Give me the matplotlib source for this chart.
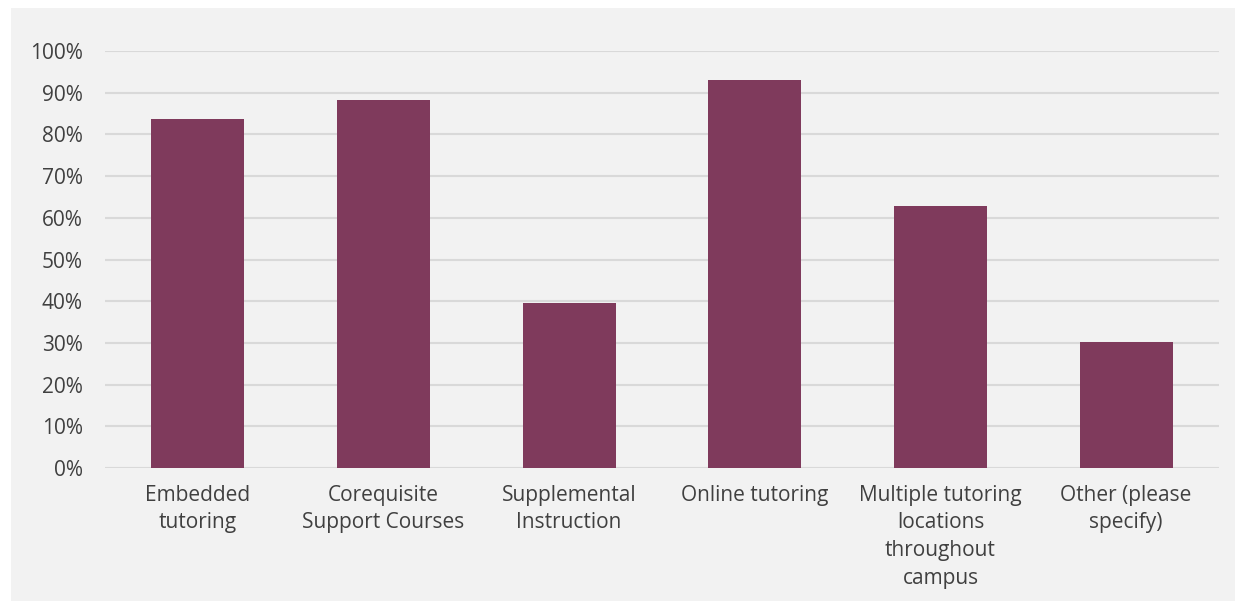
import matplotlib
matplotlib.use("Agg")
import matplotlib.pyplot as plt
from matplotlib.patches import Rectangle
from matplotlib.ticker import FuncFormatter, MultipleLocator

categories = ["Embedded\ntutoring", "Corequisite\nSupport Courses", "Supplemental\nInstruction",
              "Online tutoring", "Multiple tutoring\nlocations\nthroughout\ncampus", "Other (please\nspecify)"]
values = [83.7, 88.3, 39.6, 93.0, 62.8, 30.1]

bar_color = "#7f3a5c"
bg_color = "#f2f2f2"
text_color = "#404040"
grid_color = "#d9d9d9"

plt.rcParams['font.family'] = ['Open Sans', 'DejaVu Sans']

W, H = 1235, 601
fig = plt.figure(figsize=(W / 100, H / 100), dpi=100)
fig.patch.set_facecolor("white")
fig.patches.append(Rectangle((11 / W, 0), 1 - 11 / W, 1 - 8 / H, transform=fig.transFigure,
                             facecolor=bg_color, edgecolor="none", zorder=-10))

ax = fig.add_axes([105 / W, 1 - 468 / H, (1219 - 105) / W, (468 - 51) / H])
ax.set_zorder(1)
ax.set_facecolor("none")
x = list(range(len(categories)))
ax.bar(x, values, width=0.5, color=bar_color, zorder=3)
ax.set_xlim(-0.5, len(categories) - 0.5)
ax.set_ylim(0, 100)
ax.yaxis.set_major_locator(MultipleLocator(10))
ax.yaxis.set_major_formatter(FuncFormatter(lambda v, p: f"{int(round(v))}%"))
ax.grid(axis="y", color=grid_color, linewidth=1.5, zorder=0)
for s in ax.spines.values():
    s.set_visible(False)
ax.tick_params(axis="both", length=0, labelsize=15, labelcolor=text_color)
ax.tick_params(axis="y", pad=16)
ax.tick_params(axis="x", pad=12)
ax.set_xticks(x)
ax.set_xticklabels(categories, linespacing=1.42)
for lbl in ax.get_xticklabels():
    lbl.set_verticalalignment("top")

fig.savefig("out.png", dpi=100, facecolor="white")
